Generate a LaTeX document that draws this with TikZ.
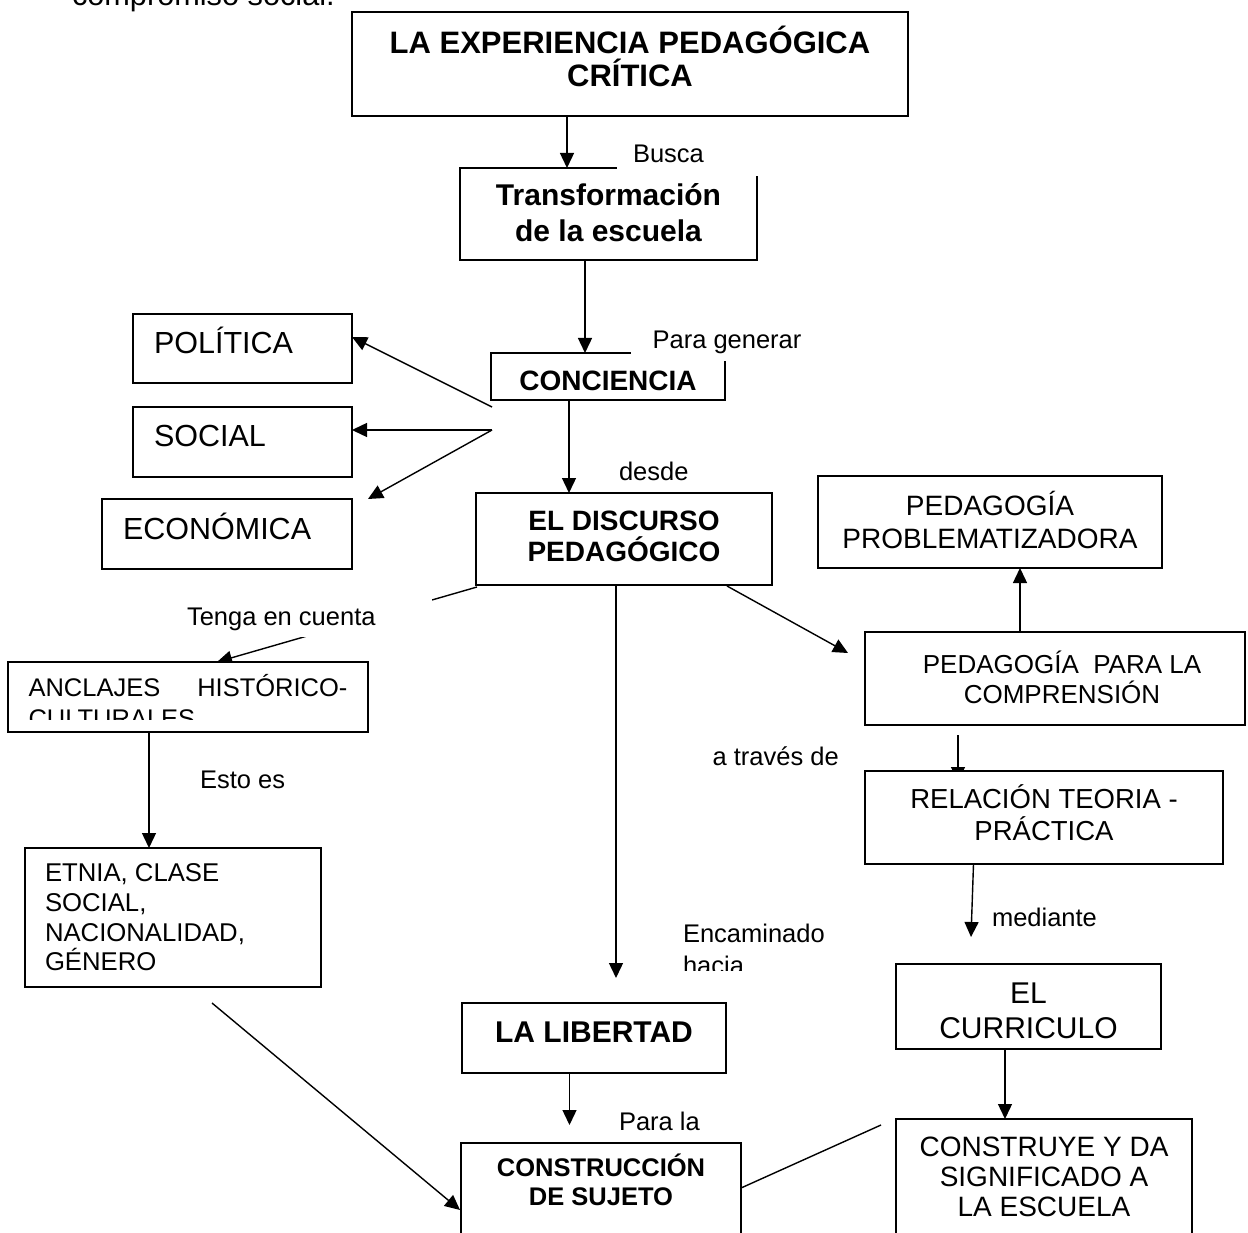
\documentclass[tikz,border=0pt]{standalone}
\usepackage{fontspec}
\setmainfont{Liberation Sans}
\usetikzlibrary{arrows.meta}
\pgfdeclarelayer{background}
\pgfsetlayers{background,main}
\newcommand\linesC[2]{\vtop{\baselineskip=#1\lineskiplimit=-1000pt\lineskip=0pt\halign{\hfil##\hfil\cr#2\crcr}}}
\newcommand\linesL[2]{\vtop{\baselineskip=#1\lineskiplimit=-1000pt\lineskip=0pt\halign{##\hfil\cr#2\crcr}}}
\newcommand\fs[2]{\fontsize{#1}{#2}\selectfont}
\begin{document}
\begin{tikzpicture}[x=1pt,y=-1pt,
  box/.style={draw, line width=1.9pt, fill=white, inner sep=0pt, outer sep=0pt},
  lbl/.style={fill=white, inner sep=0pt, outer sep=0pt, font=\fs{25.5pt}{31pt}},
  arr/.style={line width=1.4pt, -{Triangle[length=15pt,width=14pt]}},
  ln/.style={line width=1.4pt}]
\useasboundingbox (0,0) rectangle (1248,1233);
\clip (0,0) rectangle (1248,1233);

\node[lbl, anchor=base west, font=\fs{30.7pt}{36pt}] (top) at (72,6) {compromiso social.};

\node[box, minimum width=556pt, text height=41.5pt, text depth=62.5pt, font=\fs{31pt}{35pt}\bfseries] (exp) at (630,64) {\linesC{33.5pt}{LA EXPERIENCIA PEDAGÓGICA\cr CRÍTICA}\hspace{26pt}};
\node[box, minimum width=297pt, text height=38pt, text depth=54pt, font=\fs{30pt}{36pt}\bfseries] (trans) at (608.5,214) {\linesC{35.7pt}{Transformación\cr de la escuela}};
\node[box, minimum width=219pt, text height=39.3pt, text depth=29.7pt, font=\fs{30.5pt}{36pt}] (pol) at (242.5,348.5) {\makebox[177pt][l]{POLÍTICA}};
\node[box, minimum width=219pt, text height=39.7pt, text depth=30.3pt, font=\fs{30.5pt}{36pt}] (soc) at (242.5,442) {\makebox[177pt][l]{SOCIAL}};
\node[box, minimum width=250pt, text height=40.3pt, text depth=29.7pt, font=\fs{30.5pt}{36pt}] (eco) at (227,534) {\makebox[208pt][l]{ECONÓMICA}};
\node[box, minimum width=234pt, text height=37pt, text depth=10pt, font=\fs{28pt}{33pt}\bfseries] (conc) at (608,376.5) {CONCIENCIA\hspace{14pt}};
\node[box, minimum width=296pt, text height=37pt, text depth=55pt, font=\fs{28pt}{33pt}\bfseries] (disc) at (624,539) {\linesC{31.7pt}{EL DISCURSO\cr PEDAGÓGICO}};
\node[box, minimum width=344pt, text height=39pt, text depth=53pt, font=\fs{28pt}{33pt}] (pp) at (990,522) {\linesC{33.3pt}{PEDAGOGÍA\cr PROBLEMATIZADORA}};
\node[box, minimum width=380pt, text height=41.3pt, text depth=51.7pt, font=\fs{26pt}{30pt}] (ppc) at (1055,678.5) {\hspace{14pt}\linesC{30pt}{PEDAGOGÍA\ \ PARA LA\cr COMPRENSIÓN}};
\node[box, minimum width=360pt, text height=34.7pt, text depth=35.3pt, font=\fs{25.5pt}{31pt}] (anc) at (188,697) {\linesL{31pt}{\makebox[319pt]{ANCLAJES\hfill HISTÓRICO-}\cr CULTURALES}};
\fill[white] (9,719.5) rectangle (367,731);
\node[box, minimum width=296pt, text height=33.7pt, text depth=105.3pt, font=\fs{25.7pt}{30pt}] (etnia) at (173,917.5) {\makebox[256pt][l]{\linesL{29.7pt}{ETNIA, CLASE\cr SOCIAL,\cr NACIONALIDAD,\cr GÉNERO}}};
\node[box, minimum width=358pt, text height=37.3pt, text depth=55.7pt, font=\fs{27.5pt}{32pt}] (rel) at (1044,817.5) {\linesC{32.4pt}{RELACIÓN TEORIA -\cr PRÁCTICA}};
\node[box, minimum width=265pt, text height=39.3pt, text depth=45.7pt, font=\fs{30pt}{35pt}] (cur) at (1028.5,1006.5) {\linesC{35pt}{EL\cr CURRICULO}};
\node[box, minimum width=264pt, text height=39pt, text depth=31pt, font=\fs{30pt}{35pt}\bfseries] (lib) at (594,1038) {LA LIBERTAD\hspace{24pt}};
\node[box, minimum width=280pt, text height=33pt, text depth=104pt, font=\fs{25.5pt}{29pt}\bfseries] (cs) at (601,1211.5) {\linesC{29pt}{CONSTRUCCIÓN\cr DE SUJETO}};
\node[box, minimum width=296pt, text height=37.7pt, text depth=123.3pt, font=\fs{28pt}{30pt}] (con) at (1044,1199.5) {\linesC{30pt}{CONSTRUYE Y DA\cr SIGNIFICADO A\cr LA ESCUELA}};

\node[lbl, minimum width=145pt, text height=24.3pt, text depth=13.7pt] (busca) at (689.5,157) {\makebox[113pt][l]{Busca}};
\node[lbl, minimum width=181pt, text height=26.3pt, text depth=12.7pt] (pgen) at (721.5,341.5) {\makebox[137.8pt][l]{Para generar}};
\node[lbl, anchor=base west] (desde) at (619,480) {desde};
\node[lbl, minimum width=254pt, text height=27pt, text depth=12pt] (tenga) at (305,617.5) {\makebox[236pt][l]{Tenga en cuenta}};
\node[lbl, anchor=base west] (esto) at (200,788.3) {Esto es};
\node[lbl, anchor=base west] (atraves) at (712.6,765) {a través de};
\node[lbl, anchor=base west] (mediante) at (992,926.7) {mediante};
\begin{scope}
\clip (600,900) rectangle (900,970);
\node[lbl, anchor=base west] (encam) at (683,942.7) {\linesL{32pt}{Encaminado\cr hacia}};
\end{scope}
\node[lbl, anchor=base west] (parala) at (619,1130) {Para la};

\begin{pgfonlayer}{background}
\coordinate (fk1) at ([shift={(1pt,-7pt)}]conc.south west);
\coordinate (fk2) at ([shift={(1pt,-30pt)}]conc.south west);
\draw[arr] ([xshift=215pt]exp.south west) -- ([xshift=107pt]trans.north west);
\draw[arr] ([xshift=125pt]trans.south west) -- ([xshift=94pt]conc.north west);
\draw[arr] (fk1) -- ([yshift=-23pt]pol.north east);
\draw[arr] (fk2) -- ([yshift=12pt]soc.east);
\draw[arr] (fk2) -- ([xshift=16pt]eco.north east);
\draw[arr] ([xshift=78pt]conc.south west) -- ([xshift=93pt]disc.north west);
\draw[arr] ([shift={(1pt,-2pt)}]disc.south west) -- ([xshift=209pt]anc.north west);
\draw[arr] ([xshift=140pt]disc.south west) -- ([shift={(154pt,25pt)}]lib.north west);
\draw[arr] ([shift={(-45pt,-1pt)}]disc.south east) -- ([shift={(-17pt,-21pt)}]ppc.north west);
\draw[arr] ([xshift=155pt]ppc.north west) -- ([xshift=202pt]pp.south west);
\draw[arr] ([shift={(93pt,-10pt)}]ppc.south west) -- ([shift={(93pt,-11pt)}]rel.north west);
\draw[arr] ([xshift=108.5pt]rel.south west) -- ([shift={(75pt,27pt)}]cur.north west);
\draw[arr] ([xshift=109pt]cur.south west) -- ([xshift=109pt]con.north west);
\draw[arr] ([xshift=107.5pt]lib.south west) -- ([shift={(108.5pt,18pt)}]cs.north west);
\draw[arr] ([xshift=141pt]anc.south west) -- ([xshift=124pt]etnia.north west);
\draw[arr] ([shift={(187pt,-16pt)}]etnia.south west) -- ([shift={(-1pt,-67pt)}]cs.north west);
\draw[ln] ([yshift=-45pt]cs.north east) -- ([shift={(-15pt,-6pt)}]con.north west);
\end{pgfonlayer}
\end{tikzpicture}
\end{document}
